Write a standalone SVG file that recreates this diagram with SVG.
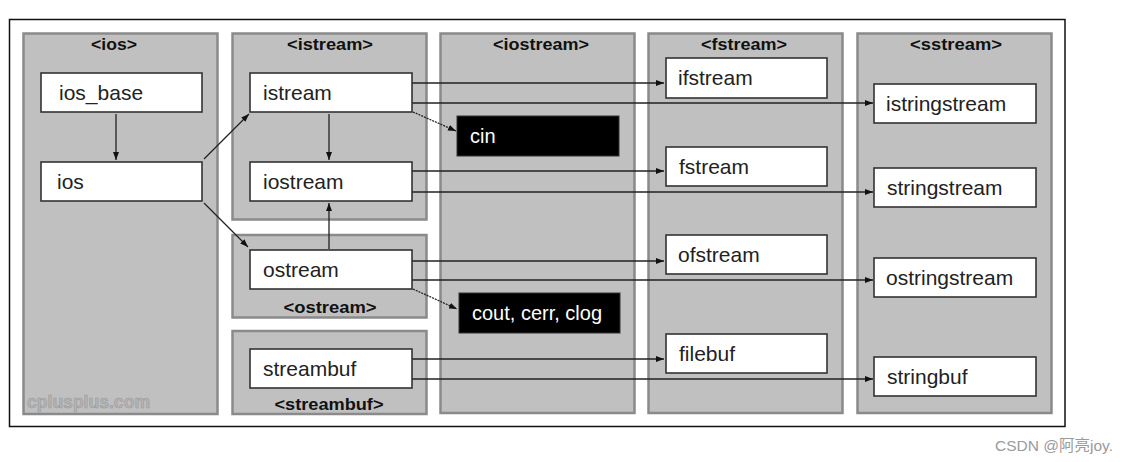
<svg xmlns="http://www.w3.org/2000/svg" width="1128" height="462" viewBox="0 0 1128 462">
<defs>
<marker id="ah" viewBox="0 0 8 6" refX="8" refY="3" markerWidth="8" markerHeight="6" markerUnits="userSpaceOnUse" orient="auto">
<path d="M0,0 L8,3 L0,6 Z" fill="#111"/>
</marker>
</defs>
<style>
.panel{fill:#c0c0c0;stroke:#8a8a8a;stroke-width:2.5}
.box{fill:#fff;stroke:#333;stroke-width:1.6}
.dark{fill:#000;stroke:#333;stroke-width:1}
.hdr{font-family:"Liberation Sans",Arial,sans-serif;font-weight:bold;font-size:17px;fill:#111;text-anchor:middle}
.lbl{font-family:"Liberation Sans",Arial,sans-serif;font-size:21px;fill:#222}
.wl{font-family:"Liberation Sans",Arial,sans-serif;font-size:20px;fill:#fff}
.c{fill:none;stroke:#222;stroke-width:1.3;marker-end:url(#ah)}
</style>
<rect x="0" y="0" width="1128" height="462" fill="#fff"/>
<rect x="9.5" y="19.5" width="1055.5" height="407" fill="#fff" stroke="#111" stroke-width="1.5"/>

<g id="panel-ios">
<rect class="panel" x="23.5" y="33.5" width="194" height="380.5"/>
<text class="hdr" x="114" y="50" textLength="46" lengthAdjust="spacingAndGlyphs">&lt;ios&gt;</text>
<text x="27" y="408" font-family="'Liberation Sans',Arial,sans-serif" font-size="18" font-weight="bold" fill="#b4b4b4" stroke="#9a9a9a" stroke-width="0.6" textLength="123" lengthAdjust="spacingAndGlyphs">cplusplus.com</text>
</g>
<g id="panel-istream">
<rect class="panel" x="232.5" y="33.5" width="194" height="186"/>
<text class="hdr" x="330" y="50" textLength="86" lengthAdjust="spacingAndGlyphs">&lt;istream&gt;</text>
</g>
<g id="panel-ostream">
<rect class="panel" x="232.5" y="235" width="194" height="82.5"/>
<text class="hdr" x="330" y="313" textLength="93" lengthAdjust="spacingAndGlyphs">&lt;ostream&gt;</text>
</g>
<g id="panel-streambuf">
<rect class="panel" x="232.5" y="331" width="194" height="83"/>
<text class="hdr" x="329" y="410" textLength="109" lengthAdjust="spacingAndGlyphs">&lt;streambuf&gt;</text>
</g>
<g id="panel-iostream">
<rect class="panel" x="440.5" y="33.5" width="194" height="379.5"/>
<text class="hdr" x="541" y="50" textLength="96" lengthAdjust="spacingAndGlyphs">&lt;iostream&gt;</text>
</g>
<g id="panel-fstream">
<rect class="panel" x="648.5" y="33.5" width="194" height="379.5"/>
<text class="hdr" x="744" y="50" textLength="86" lengthAdjust="spacingAndGlyphs">&lt;fstream&gt;</text>
</g>
<g id="panel-sstream">
<rect class="panel" x="857.5" y="33.5" width="194" height="379.5"/>
<text class="hdr" x="956" y="50" textLength="92" lengthAdjust="spacingAndGlyphs">&lt;sstream&gt;</text>
</g>

<g id="connectors">
<line class="c" x1="116" y1="114" x2="116" y2="160"/>
<line class="c" x1="204" y1="159" x2="249" y2="114"/>
<line class="c" x1="204" y1="203" x2="248" y2="247"/>
<line class="c" x1="329" y1="114" x2="329" y2="160"/>
<line class="c" x1="329" y1="249" x2="329" y2="203"/>
<line class="c" x1="412" y1="83" x2="664" y2="83"/>
<line class="c" x1="412" y1="103" x2="873" y2="103"/>
<line class="c" x1="413" y1="112" x2="456" y2="131" stroke-dasharray="2 1"/>
<line class="c" x1="412" y1="171" x2="664" y2="171"/>
<line class="c" x1="412" y1="192" x2="873" y2="192"/>
<line class="c" x1="412" y1="261" x2="664" y2="261"/>
<line class="c" x1="412" y1="280" x2="873" y2="280"/>
<line class="c" x1="413" y1="289" x2="457" y2="309" stroke-dasharray="2 1"/>
<line class="c" x1="412" y1="359" x2="664" y2="359"/>
<line class="c" x1="412" y1="379" x2="873" y2="379"/>
</g>

<g id="node-ios_base"><rect class="box" x="41" y="73" width="161" height="39"/><text class="lbl" x="59" y="100">ios_base</text></g>
<g id="node-ios"><rect class="box" x="41" y="162" width="161" height="39"/><text class="lbl" x="57" y="189">ios</text></g>
<g id="node-istream"><rect class="box" x="250" y="73" width="162" height="39"/><text class="lbl" x="263" y="100">istream</text></g>
<g id="node-iostream"><rect class="box" x="250" y="162" width="162" height="39"/><text class="lbl" x="263" y="189">iostream</text></g>
<g id="node-ostream"><rect class="box" x="250" y="250" width="162" height="39"/><text class="lbl" x="263" y="277">ostream</text></g>
<g id="node-streambuf"><rect class="box" x="250" y="349" width="162" height="39"/><text class="lbl" x="263" y="376">streambuf</text></g>
<g id="node-cin"><rect class="dark" x="457" y="116" width="162" height="40"/><text class="wl" x="470" y="143">cin</text></g>
<g id="node-cout"><rect class="dark" x="459" y="293" width="161" height="40"/><text class="wl" x="472" y="320">cout, cerr, clog</text></g>
<g id="node-ifstream"><rect class="box" x="666" y="58" width="161" height="40"/><text class="lbl" x="678" y="85">ifstream</text></g>
<g id="node-fstream"><rect class="box" x="666" y="147" width="161" height="39"/><text class="lbl" x="679" y="174">fstream</text></g>
<g id="node-ofstream"><rect class="box" x="666" y="235" width="161" height="39"/><text class="lbl" x="678" y="262">ofstream</text></g>
<g id="node-filebuf"><rect class="box" x="666" y="334" width="161" height="39"/><text class="lbl" x="679" y="361">filebuf</text></g>
<g id="node-istringstream"><rect class="box" x="874" y="84" width="162" height="39"/><text class="lbl" x="886" y="111">istringstream</text></g>
<g id="node-stringstream"><rect class="box" x="874" y="168" width="162" height="39"/><text class="lbl" x="887" y="195">stringstream</text></g>
<g id="node-ostringstream"><rect class="box" x="874" y="258" width="162" height="39"/><text class="lbl" x="886" y="285">ostringstream</text></g>
<g id="node-stringbuf"><rect class="box" x="874" y="357" width="162" height="39"/><text class="lbl" x="887" y="384">stringbuf</text></g>

<text x="1113" y="451" text-anchor="end" font-family="'Liberation Sans','Noto Sans CJK SC',sans-serif" font-size="15.5" fill="#9a9a9a">CSDN @阿亮joy.</text>
</svg>
